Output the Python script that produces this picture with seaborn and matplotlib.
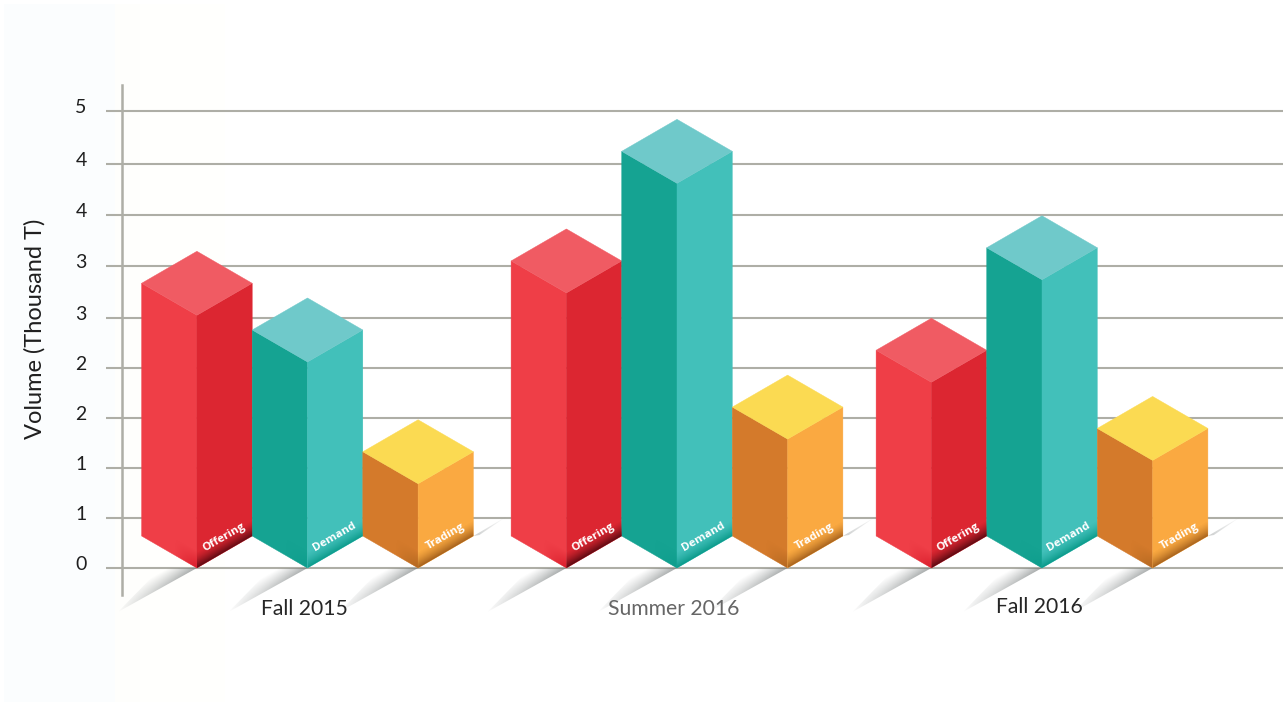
import numpy as np
import pandas as pd
import seaborn as sns
import matplotlib.pyplot as plt
from matplotlib.colors import to_rgb
from matplotlib.patches import Polygon, Rectangle
from matplotlib.transforms import ScaledTranslation

periods = ['Fall 2015', 'Summer 2016', 'Fall 2016']
series = ['Offering', 'Demand', 'Trading']
offering = [2.49, 2.71, 1.83]
demand = [2.03, 3.79, 2.84]
trading = [0.83, 1.27, 1.06]
tick_values = [0, 0.49, 0.985, 1.48, 1.97, 2.46, 2.975, 3.48, 3.98, 4.5]
tick_labels = ['0', '1', '1', '2', '2', '3', '3', '4', '4', '5']

# layout, in picture pixels
W, H = 1287, 702
group_x = [307.5, 677, 1042]
half = 55.3
depth_px = 32
px_per_unit = 101.5
axis_left, axis_right, axis_top, axis_bottom, zero_y = 122, 1283, 85, 595, 568
grid_col = '#aeaea6'

# left face, right face, top face, dark colour at the foot of the right face
faces = {
    'Offering': ('#ef3e47', '#dc2631', '#f05b63', '#5e0a12'),
    'Demand': ('#15a392', '#42c0ba', '#6fc9ca', '#0a9a8a'),
    'Trading': ('#d47a2b', '#faa941', '#fbda52', '#a4601c'),
}

df = pd.DataFrame({
    'period': periods * 3,
    'x': group_x * 3,
    'series': np.repeat(series, 3),
    'value': offering + demand + trading,
})

sns.set_theme(style='white')
plt.rcParams['font.family'] = ['Lato', 'DejaVu Sans']

fig = plt.figure(figsize=(W / 100, H / 100), dpi=100)

# very faint background panels of the scan
for x0, x1, c in [(4, 115, '#fbfdfe'), (115, 140, '#fefefc'), (140, 225, '#fffffd')]:
    fig.add_artist(Rectangle((x0 / W, 0), (x1 - x0) / W, 1 - 4 / H, transform=fig.transFigure,
                             facecolor=c, edgecolor='none', zorder=-5))

ax = fig.add_axes([axis_left / W, 1 - axis_bottom / H,
                   (axis_right - axis_left) / W, (axis_bottom - axis_top) / H])
ax.patch.set_alpha(0)

sns.barplot(data=df, x='x', y='value', hue='series', hue_order=series, native_scale=True,
            width=3 * 2 * half / 365, gap=0, errorbar=None, legend=False,
            palette={s: faces[s][0] for s in series}, ax=ax)

ax.set_xlim(axis_left, axis_right)
ax.set_ylim((zero_y - axis_bottom) / px_per_unit, (zero_y - axis_top) / px_per_unit)
depth = depth_px / px_per_unit


def gradient(poly, rgb, alpha):
    # image with its own alpha, clipped to a polygon given in (px, value)
    xs = np.array([p[0] for p in poly])
    ys = np.array([p[1] for p in poly])
    x0, x1, y0, y1 = xs.min(), xs.max(), ys.min(), ys.max()
    gx, gy = np.meshgrid(np.linspace(x0, x1, 120), np.linspace(y1, y0, 120))
    img = np.zeros((120, 120, 4))
    img[..., :3] = to_rgb(rgb)
    img[..., 3] = np.clip(alpha(gx, gy), 0, 1)
    im = ax.imshow(img, extent=(x0, x1, y0, y1), aspect='auto', zorder=4, interpolation='bilinear')
    im.set_clip_path(Polygon(poly, closed=True, transform=ax.transData))
    im.set_clip_box(fig.bbox)
    return im


for s, bars in zip(series, ax.containers):
    left_c, right_c, top_c, dark_c = faces[s]
    for bar in bars:
        cx = bar.get_x() + bar.get_width() / 2
        h = bar.get_height()
        bar.set_visible(False)

        # shadow on the floor, sharp on its lower edge
        sx, sy = cx, 0
        ex, ey = cx - 79, -44 / px_per_unit
        shadow = [(sx, sy), (ex, ey), (sx - 36, sy)]

        def shadow_alpha(gx, gy, sx=sx):
            along = (sx - gx) / 79
            edge = (gx - sx) * (44 / 79) / px_per_unit - gy
            return 0.62 * (1 - along) ** 0.8 * np.clip(1 - np.abs(edge) * px_per_unit / 16, 0, 1)
        gradient(shadow, '#6f7575', shadow_alpha).set_zorder(2)

        ax.add_patch(Polygon([(cx - half, depth), (cx, 0), (cx, h), (cx - half, h + depth)],
                             facecolor=left_c, edgecolor=left_c, lw=0.3, zorder=3, clip_on=False))
        ax.add_patch(Polygon([(cx, 0), (cx + half, depth), (cx + half, h + depth), (cx, h)],
                             facecolor=right_c, edgecolor=right_c, lw=0.3, zorder=3, clip_on=False))
        ax.add_patch(Polygon([(cx - half, h + depth), (cx, h), (cx + half, h + depth), (cx, h + 2 * depth)],
                             facecolor=top_c, edgecolor=top_c, lw=0.3, zorder=3, clip_on=False))

        # darker foot of the right face
        foot = 17 / px_per_unit
        right_foot = [(cx, 0), (cx + half, depth), (cx + half, depth + foot), (cx, foot)]

        def foot_alpha(gx, gy, cx=cx, foot=foot):
            above = gy - (gx - cx) * (depth / half)
            return (1 - above / foot) ** 1.5
        gradient(right_foot, dark_c, foot_alpha)

        # darker foot of the left face, only near the front corner
        left_foot = [(cx - 22, 22 * depth / half), (cx, 0), (cx, foot), (cx - 22, 22 * depth / half + foot)]

        def left_alpha(gx, gy, cx=cx, foot=foot):
            above = gy + (gx - cx) * (depth / half)
            return 0.7 * (1 - above / foot) * np.clip(1 - (cx - gx) / 22, 0, 1)
        gradient(left_foot, dark_c if s != 'Offering' else '#d01020', left_alpha)

        ax.text(cx + 27, 31 / px_per_unit, s, color='white', fontsize=8.2, fontweight='bold',
                rotation=30, rotation_mode='anchor', ha='center', va='center', zorder=6,
                family=['Open Sans', 'DejaVu Sans'])

    # faint shadow running on behind the last bar of each group
    if s == 'Trading':
        for bar in bars:
            rx = bar.get_x() + bar.get_width() / 2 + half

            def back_alpha(gx, gy, rx=rx):
                return 0.45 * np.clip(1 - (gx - rx) / 34, 0, 1)
            gradient([(rx, depth), (rx + 34, depth + 20 / px_per_unit), (rx + 6, depth + 1 / px_per_unit)],
                     '#8b9090', back_alpha).set_zorder(2)

ax.set_xlim(axis_left, axis_right)
ax.set_ylim((zero_y - axis_bottom) / px_per_unit, (zero_y - axis_top) / px_per_unit)

ax.set_yticks(tick_values)
ax.set_yticklabels(tick_labels, fontsize=14, color='#1f1f1f')
ax.set_xticks(group_x)
ax.set_xticklabels(periods, fontsize=15.2, color='#262626')
ax.get_xticklabels()[1].set_color('#666666')
ax.set_xlabel('')
ax.set_ylabel('Volume (Thousand T)', fontsize=17, color='#1f1f1f')
ax.yaxis.set_label_coords((46 - axis_left) / (axis_right - axis_left), 1 - (329 - axis_top) / (axis_bottom - axis_top))

ax.grid(axis='y', color=grid_col, lw=1.5, zorder=1)
ax.set_axisbelow(True)
ax.tick_params(axis='y', length=11.5, width=1.5, color=grid_col, pad=14, left=True)
ax.tick_params(axis='x', length=0, pad=3)
for side in ['top', 'right', 'bottom']:
    ax.spines[side].set_visible(False)
ax.spines['left'].set_color(grid_col)
ax.spines['left'].set_linewidth(1.8)

lift = ScaledTranslation(0, 5 / 100, fig.dpi_scale_trans)
for lab in ax.get_yticklabels():
    lab.set_transform(lab.get_transform() + lift)
for lab, up in zip(ax.get_xticklabels(), [0, 0, 2]):
    lab.set_transform(lab.get_transform() + ScaledTranslation(-3 / 100, up / 100, fig.dpi_scale_trans))

fig.savefig('out.png', dpi=100)
